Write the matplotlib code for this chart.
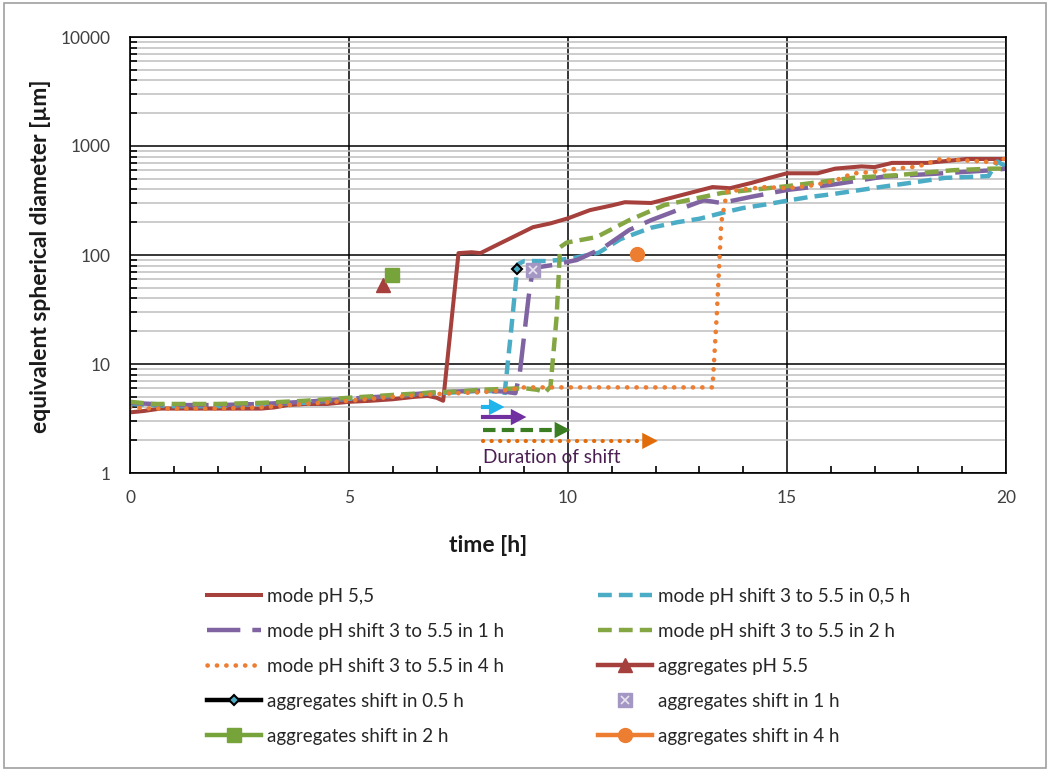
import numpy as np
import matplotlib
matplotlib.use('Agg')
import matplotlib.pyplot as plt
from matplotlib.patches import Rectangle

plt.rcParams['font.family'] = ['Lato', 'DejaVu Sans']

# mode of the size distribution, constant pH 5.5
t_ph55 = [0, 0.3, 0.7, 1, 2, 3, 3.3, 3.6, 4, 4.5, 5, 5.5, 6, 6.5, 6.8, 7.0, 7.15,
          7.5, 7.8, 8.0, 8.4, 8.8, 9.2, 9.6, 10.0, 10.5, 11.0, 11.3, 11.9, 12.6,
          13.3, 13.7, 14.2, 14.6, 15.0, 15.7, 16.1, 16.7, 17.0, 17.4, 18.2, 19.1, 20]
d_ph55 = [3.6, 3.7, 3.9, 3.9, 3.9, 3.9, 4.0, 4.2, 4.3, 4.3, 4.5, 4.6, 4.75, 5.0, 5.1, 4.9, 4.6,
          104, 106, 104, 125, 150, 180, 195, 217, 258, 285, 305, 300, 355,
          420, 410, 460, 510, 562, 562, 620, 650, 640, 700, 700, 760, 760]

# pH shift 3 -> 5.5 in 0.5 h
t_s05 = [0, 0.5, 1, 2, 3, 4, 5, 6, 7, 7.5, 8, 8.4, 8.55, 8.7, 8.85, 9.0, 9.5, 9.8,
         10.2, 10.7, 11.2, 11.9, 12.5, 13.0, 13.6, 14.0, 14.5, 15.0, 15.5, 16.0,
         17.2, 18.0, 18.6, 19.3, 19.6, 19.8, 20]
d_s05 = [4.3, 4.2, 4.1, 4.1, 4.3, 4.4, 4.8, 5.1, 5.4, 5.5, 5.7, 5.6, 5.2, 20, 82, 88, 88, 90,
         95, 105, 140, 178, 200, 215, 248, 270, 290, 315, 340, 360,
         424, 470, 510, 523, 530, 720, 650]

# pH shift 3 -> 5.5 in 1 h
t_s1 = [0, 0.5, 1, 2, 3, 4, 5, 6, 7, 7.5, 8, 8.5, 8.8, 8.9, 9.1, 9.2, 9.66, 10.2,
        10.8, 11.4, 11.9, 12.5, 13.1, 13.5, 14.2, 15.0, 16.0, 17.2, 18.5, 19.7, 20]
d_s1 = [4.4, 4.3, 4.2, 4.2, 4.3, 4.5, 4.8, 5.1, 5.5, 5.6, 5.7, 5.6, 5.4, 8.3, 41, 76, 81, 90,
        116, 170, 209, 258, 318, 300, 343, 395, 440, 523, 560, 600, 620]

# pH shift 3 -> 5.5 in 2 h
t_s2 = [0, 0.5, 1, 2, 3, 4, 5, 6, 7, 7.5, 8, 8.5, 9.0, 9.3, 9.48, 9.6, 9.74, 9.82,
        9.97, 10.65, 11.4, 12.2, 13.5, 15.0, 16.5, 17.5, 18.8, 19.7, 20]
d_s2 = [4.5, 4.3, 4.3, 4.3, 4.4, 4.6, 4.9, 5.2, 5.5, 5.6, 5.8, 5.9, 6.0, 5.8, 5.5, 6.2, 27, 118,
        130, 146, 209, 287, 370, 428, 510, 540, 600, 620, 620]

# pH shift 3 -> 5.5 in 4 h
t_s4 = [0, 0.5, 1, 2, 3, 4, 5, 6, 7, 7.5, 8, 8.5, 9.0, 10, 11, 12, 13.0, 13.3, 13.4,
        13.5, 13.63, 14.0, 14.5, 15.0, 15.5, 16.0, 16.2, 16.5, 17.0, 17.5, 18.0,
        18.5, 19.0, 19.5, 19.8, 20]
d_s4 = [4.0, 3.9, 3.9, 3.9, 4.0, 4.3, 4.6, 5.0, 5.3, 5.4, 5.5, 5.7, 6.1, 6.1, 6.1, 6.1, 6.1, 6.1, 30,
        200, 380, 400, 420, 410, 430, 470, 500, 560, 580, 620, 650,
        760, 740, 720, 700, 780]

# aggregate sizes (single observations)
agg_t = {'ph55': 5.78, 's05': 8.84, 's1': 9.2, 's2': 5.98, 's4': 11.58}
agg_d = {'ph55': 53, 's05': 74, 's1': 73, 's2': 66, 's4': 102}

# durations of the pH shift, drawn as arrows starting at 8.05 h
shift_start = 8.05
shift_hours = [0.5, 1, 2, 4]

c_red = '#a5403c'
c_cyan = '#4bacc6'
c_purple = '#8064a2'
c_green = '#84a743'
c_orange = '#ed7d31'

fig = plt.figure(figsize=(10.48, 7.71), dpi=100)
ax = fig.add_axes([130 / 1048, 1 - 473 / 771, 876 / 1048, 436 / 771])

h_ph55, = ax.plot(t_ph55, d_ph55, color=c_red, lw=2.9, label='mode pH 5,5')
h_s05, = ax.plot(t_s05, d_s05, color=c_cyan, lw=3.2, ls=(0, (3.1, 1.6)),
                 label='mode pH shift 3 to 5.5 in 0,5 h')
h_s1, = ax.plot(t_s1, d_s1, color=c_purple, lw=3.2, ls=(0, (7.5, 2.7)),
                label='mode pH shift 3 to 5.5 in 1 h')
h_s2, = ax.plot(t_s2, d_s2, color=c_green, lw=3.2, ls=(0, (3.1, 1.6)),
                label='mode pH shift 3 to 5.5 in 2 h')
h_s4, = ax.plot(t_s4, d_s4, color=c_orange, lw=3.3, ls=(0, (0.05, 2.0)),
                dash_capstyle='round', label='mode pH shift 3 to 5.5 in 4 h')

a_ph55, = ax.plot([agg_t['ph55']], [agg_d['ph55']], color=c_red, lw=3.2, marker='^',
                  ms=10, label='aggregates pH 5.5')
a_s05, = ax.plot([agg_t['s05']], [agg_d['s05']], color='black', lw=3.2, marker='D', ms=5.5,
                 mfc=c_cyan, mec='black', mew=1.5, label='aggregates shift in 0.5 h')
a_s1sq, = ax.plot([agg_t['s1']], [agg_d['s1']], ls='none', marker='s', ms=9.5,
                  color='#a497c4')
a_s1x, = ax.plot([agg_t['s1']], [agg_d['s1']], ls='none', marker='x', ms=5.5, mew=1.2,
                 color='#e8e4f0')
a_s2, = ax.plot([agg_t['s2']], [agg_d['s2']], color='#77a33b', lw=3.2, marker='s', ms=9.5,
                label='aggregates shift in 2 h')
a_s4, = ax.plot([agg_t['s4']], [agg_d['s4']], color=c_orange, lw=3.2, marker='o', ms=10,
                label='aggregates shift in 4 h')

# arrows for the duration of each shift
arrow_y = [4.03, 3.26, 2.48, 1.97]
arrow_c = ['#1fb4ea', '#7030a0', '#3b7d23', '#e36c0a']
arrow_ls = ['-', '-', (0, (3.0, 1.5)), (0, (0.05, 2.0))]
for dur, y, c, ls in zip(shift_hours, arrow_y, arrow_c, arrow_ls):
    x1 = shift_start + dur
    ax.plot([shift_start, x1 - 0.15], [y, y], color=c, lw=3.0, ls=ls,
            dash_capstyle='round' if ls == arrow_ls[3] else 'butt')
    ax.annotate('', xy=(x1, y), xytext=(x1 - 0.05, y),
                arrowprops=dict(arrowstyle='-|>,head_length=0.8,head_width=0.42',
                                color=c, lw=0, shrinkA=0, shrinkB=0, mutation_scale=14))
ax.text(shift_start, 1.38, 'Duration of shift', color='#4b1e52', fontsize=13.6,
        va='center', ha='left')

ax.set_yscale('log')
ax.set_xlim(0, 20)
ax.set_ylim(1, 10000)
ax.set_xticks([0, 5, 10, 15, 20])
ax.set_xticks(np.arange(0, 21, 1), minor=True)
ax.set_yticks([1, 10, 100, 1000, 10000])
ax.set_yticklabels(['1', '10', '100', '1000', '10000'])
ax.tick_params(axis='both', which='major', length=0, labelsize=12.5, colors='#404040')
ax.tick_params(axis='x', which='major', pad=12)
ax.tick_params(axis='y', which='major', pad=14)
ax.tick_params(axis='both', which='minor', direction='in', length=5, width=1.2,
               color='black', labelleft=False, labelbottom=False)
ax.yaxis.set_minor_formatter(plt.NullFormatter())
ax.grid(True, which='minor', axis='y', color='#bfbfbf', lw=1.1)
ax.grid(True, which='major', color='black', lw=1.1)
ax.set_axisbelow(True)
for s in ax.spines.values():
    s.set_color('black')
    s.set_linewidth(1.2)

ax.set_xlabel('time [h]', fontsize=16.5, fontweight='bold', color='#1a1a1a')
ax.xaxis.set_label_coords((488 - 130) / 876, -(535 - 473) / 436)
ax.set_ylabel('equivalent spherical diameter [µm]', fontsize=16.5, fontweight='bold',
              color='#1a1a1a')
ax.yaxis.set_label_coords((51 - 130) / 876, 0.497)

handles = [h_ph55, h_s1, h_s4, a_s05, a_s2,
           h_s05, h_s2, a_ph55, (a_s1sq, a_s1x), a_s4]
labels = ['mode pH 5,5', 'mode pH shift 3 to 5.5 in 1 h', 'mode pH shift 3 to 5.5 in 4 h',
          'aggregates shift in 0.5 h', 'aggregates shift in 2 h',
          'mode pH shift 3 to 5.5 in 0,5 h', 'mode pH shift 3 to 5.5 in 2 h',
          'aggregates pH 5.5', 'aggregates shift in 1 h', 'aggregates shift in 4 h']
fig.legend(handles, labels, ncol=2, loc='upper left',
           bbox_to_anchor=(190 / 1048, 1 - 571 / 771),
           frameon=False, fontsize=13.5, handlelength=2.9, handletextpad=0.3,
           labelspacing=0.96, columnspacing=5.0, labelcolor='#262626')

fig.patches.append(Rectangle((4 / 1048, 3 / 771), 1042 / 1048, 765 / 771,
                             transform=fig.transFigure, fill=False, ec='#a0a0a0', lw=1.2))

fig.savefig('out.png', dpi=100, facecolor='white')
